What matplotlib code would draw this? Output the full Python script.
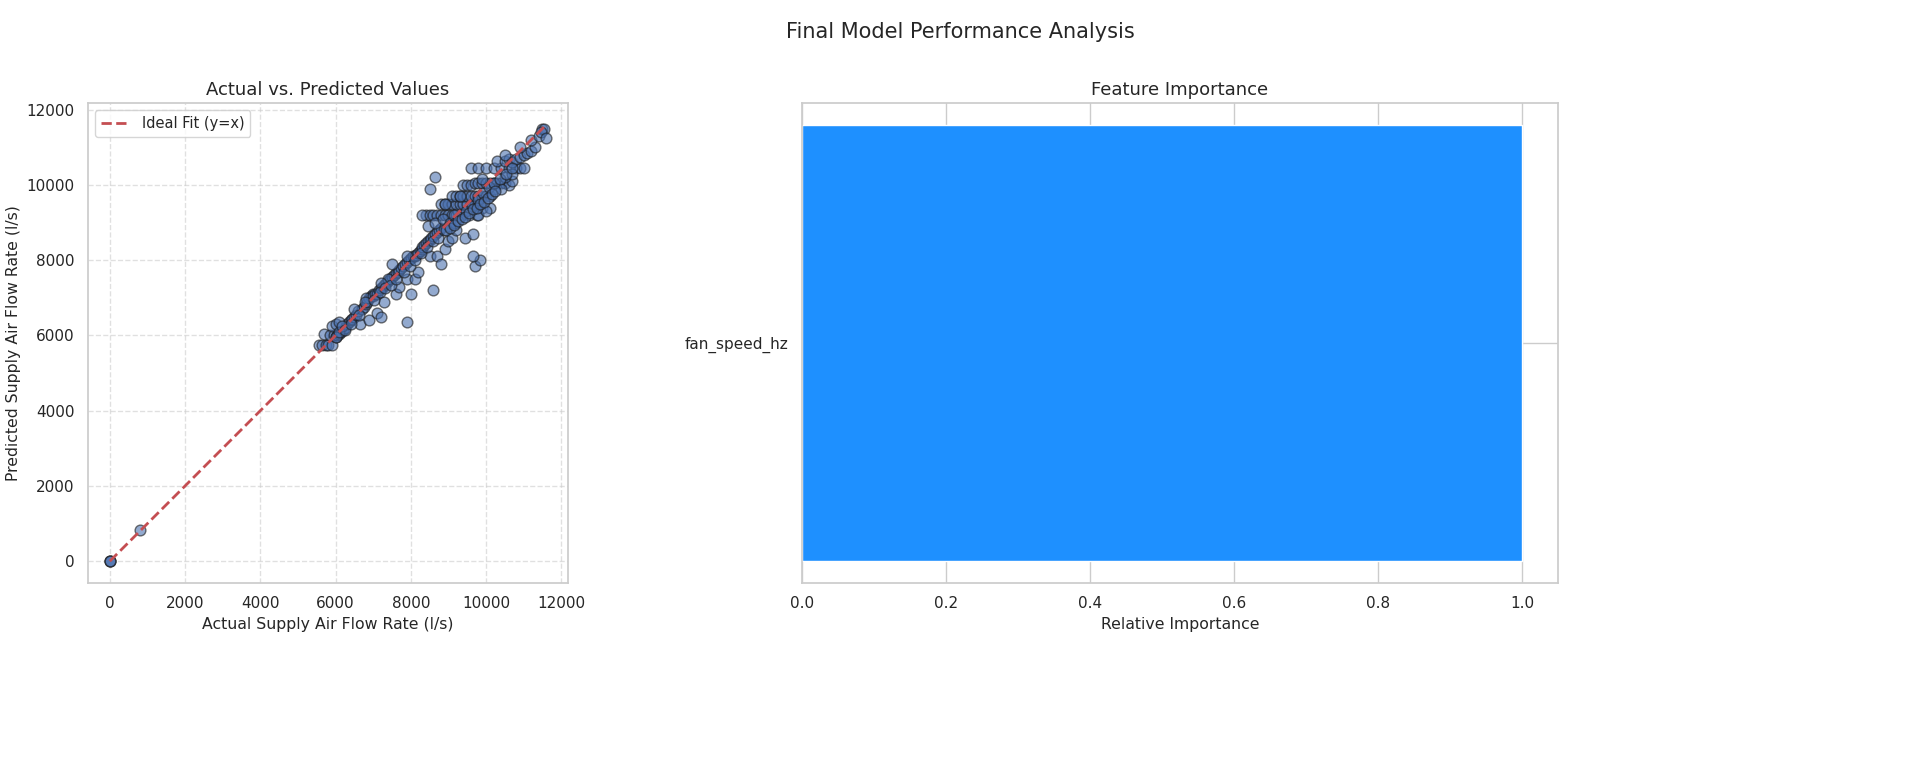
import matplotlib
matplotlib.use("Agg")
import matplotlib.pyplot as plt
import seaborn as sns

sns.set_theme(style="whitegrid")

actual = [0, 0, 0, 810,
 5550, 5650, 5750, 5800, 5900, 5700, 5850, 5950, 6000, 6050, 6100, 6150, 6200, 6250, 6300, 5900, 6000, 6100,
 6350, 6400, 6450, 6500, 6550, 6600, 6700, 6750, 6800, 6850, 6900, 6950, 7000, 6650, 6900, 7100, 7200, 6500, 6800,
 7000, 7050, 7100, 7150, 7200, 7250, 7300, 7350, 7400, 7450, 7500, 7550, 7600, 7650, 7700, 7300, 7600, 7900, 7700,
 7750, 7800, 7850, 7900, 7950, 8000, 8050, 8100, 8150, 8200, 8250, 8300, 7400, 7500, 7900, 8100, 8200, 8000, 7200,
 8300, 8350, 8400, 8450, 8500, 8550, 8600, 8650, 8700, 8750, 8800, 8500, 8700, 8900, 9000, 8600, 8800, 9100,
 8400, 8300, 8500, 8600, 8700, 8800, 8900, 9000, 9100, 9200, 8450, 8650, 8850, 9050, 9250,
 8800, 8900, 9000, 9100, 9200, 9300, 9400, 9500, 9600, 9700, 9800, 9150, 9350, 9550, 9750, 9450, 9650,
 9100, 9200, 9300, 9400, 9500, 9600, 9700, 9800, 9900, 10000, 10100, 9700, 9900, 10100, 9800, 10000,
 9400, 9500, 9600, 9700, 9800, 9900, 10000, 10100, 10200, 10300, 10400, 10500, 10600, 10700, 10200, 10400,
 9600, 9800, 10000, 10200, 10400, 10600, 10800, 10900, 11000, 10500, 10700,
 10300, 10500, 10600, 10700, 10800, 10900, 11000, 11100, 11200, 11300,
 10900, 11200, 11400, 11500, 11550, 11450, 11600,
 9700, 9850, 9650, 8900, 9300, 8500, 8650, 7900, 9900, 10500, 9200,
 6020, 6080, 6180, 6240, 6420, 6620, 6780, 7020, 7180, 7320, 7480, 7620, 7820, 7980, 8120, 8280,
 8420, 8580, 8720, 8880, 9020, 9180, 9320, 9480, 9620, 9780, 9920, 10080, 10220, 10380, 10520, 10680,
 8950, 9050, 9150, 9250, 9350, 9450, 9550, 9650, 9750, 9850, 9950, 10050, 10150, 10250]
predicted = [0, 0, 0, 820,
 5750, 5750, 5750, 5750, 5750, 6050, 6000, 6000, 5950, 6000, 6050, 6100, 6150, 6200, 6300, 6250, 6300, 6350,
 6350, 6400, 6450, 6500, 6550, 6650, 6700, 6750, 6850, 6900, 7000, 7050, 7100, 6300, 6400, 6600, 6500, 6700, 7000,
 7050, 7100, 7100, 7200, 7250, 7300, 7350, 7400, 7450, 7500, 7550, 7600, 7650, 7700, 7750, 6900, 7100, 7500, 7300,
 7800, 7850, 7900, 7950, 8000, 8050, 8100, 8100, 8150, 8200, 8250, 8300, 7500, 7900, 8100, 7500, 7700, 7100, 7400,
 8350, 8400, 8450, 8500, 8550, 8600, 8650, 8700, 8750, 8800, 8850, 8100, 8100, 8300, 8500, 7200, 7900, 8600,
 9200, 9200, 9200, 9200, 9200, 9200, 9200, 9200, 9200, 9200, 8900, 9000, 9100, 9000, 9300,
 9500, 9500, 9500, 9500, 9500, 9500, 9500, 9500, 9500, 9500, 9500, 9200, 9200, 9200, 9200, 8600, 8700,
 9700, 9700, 9700, 9700, 9700, 9700, 9700, 9700, 9700, 9700, 9700, 9400, 9400, 9400, 9200, 9300,
 10000, 10000, 10000, 10050, 10050, 10050, 10050, 10050, 10050, 10050, 10050, 10050, 10000, 10100, 9900, 9900,
 10450, 10450, 10450, 10450, 10450, 10450, 10450, 10450, 10450, 10200, 10300,
 10650, 10650, 10700, 10600, 10700, 10750, 10800, 10850, 10900, 11000,
 11000, 11200, 11300, 11500, 11500, 11400, 11250,
 7850, 8000, 8100, 9500, 9700, 9900, 10200, 6350, 10150, 10800, 8800,
 5950, 6100, 6250, 6150, 6300, 6550, 6900, 6950, 7150, 7250, 7350, 7500, 7700, 7850, 8000, 8200,
 8350, 8500, 8600, 8800, 8900, 9000, 9150, 9300, 9450, 9600, 9800, 9950, 10050, 10150, 10300, 10450,
 8800, 8850, 8950, 9050, 9100, 9150, 9250, 9350, 9400, 9500, 9550, 9650, 9750, 9850]

features = ["fan_speed_hz"]
importance = [1.0]

fig = plt.figure(figsize=(19.2, 7.83), dpi=100)
ax1 = fig.add_axes([88/1920, 1-583/783, 480/1920, 480/783])
ax2 = fig.add_axes([802/1920, 1-583/783, 756/1920, 480/783])

fig.suptitle("Final Model Performance Analysis", fontsize=15, y=0.972)

ax1.scatter(actual, predicted, alpha=0.6, color="#4c72b0", edgecolor="k", s=60)
lo, hi = min(actual), max(actual)
ax1.plot([lo, hi], [lo, hi], "r--", lw=2, label="Ideal Fit (y=x)")
ax1.set_title("Actual vs. Predicted Values", fontsize=13)
ax1.set_xlabel("Actual Supply Air Flow Rate (l/s)", fontsize=11.3)
ax1.set_ylabel("Predicted Supply Air Flow Rate (l/s)", fontsize=11.3)
ax1.legend(loc="upper left", fontsize=10.5)
ax1.grid(True, linestyle="--", alpha=0.6)
ax1.set_xticks(range(0, 12001, 2000))
ax1.set_yticks(range(0, 12001, 2000))
ax1.tick_params(labelsize=11)

ax2.barh(features, importance, color="dodgerblue")
ax2.set_title("Feature Importance", fontsize=13)
ax2.set_xlabel("Relative Importance", fontsize=11.3)
ax2.tick_params(labelsize=11)

fig.savefig("out.png", dpi=100)
